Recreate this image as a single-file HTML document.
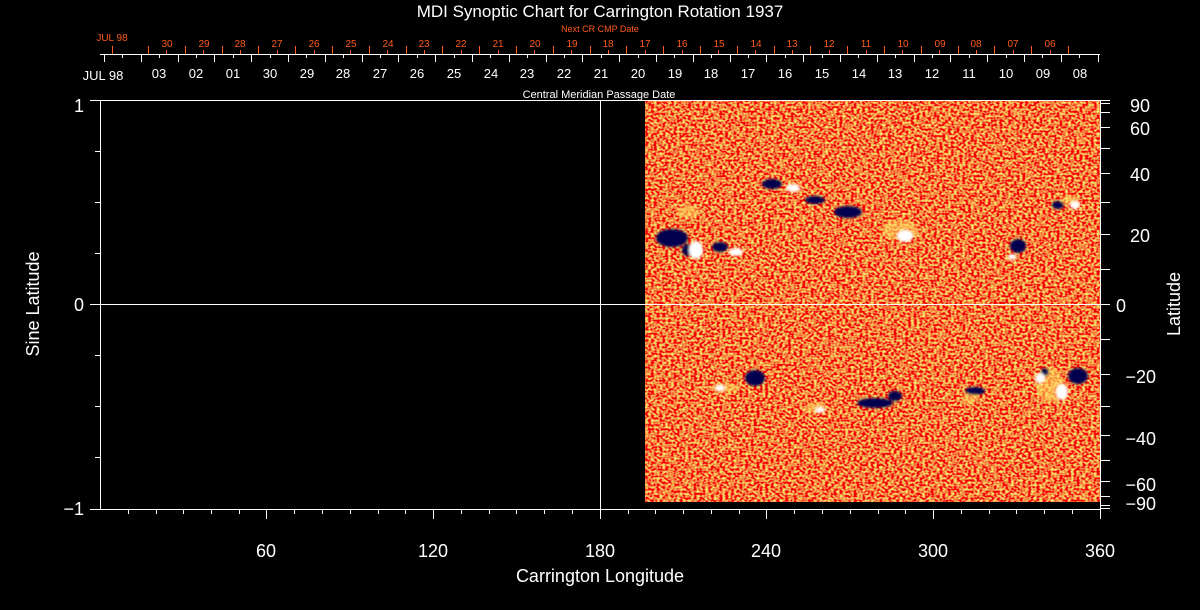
<!DOCTYPE html>
<html><head><meta charset="utf-8"><style>
html,body{margin:0;padding:0;background:#000;}
svg{display:block;}
text{font-family:"Liberation Sans",sans-serif;fill:#fff;}
.o, .o text{fill:#ff5a1e;font-size:10px;}
.w, .w text{font-size:13px;}
.b, .b text{font-size:18px;}
</style></head><body>
<svg width="1200" height="610" viewBox="0 0 1200 610" xmlns="http://www.w3.org/2000/svg">
<defs>
<filter id="n" x="0" y="0" width="100%" height="100%">
<feTurbulence type="fractalNoise" baseFrequency="0.35 0.45" numOctaves="1" seed="3" result="t"/>
<feColorMatrix in="t" type="matrix" values="0 0 0 0 0.91  2.4 0 0 0 -0.98  0.4 0 0 0 -0.15  0 0 0 0 1"/>
</filter>
<filter id="bl"><feGaussianBlur stdDeviation="1.2"/></filter>
</defs>
<rect x="645" y="101" width="455" height="401" fill="#e85a1c"/>
<rect x="645" y="101" width="455" height="401" filter="url(#n)"/>
<g filter="url(#bl)">
<g fill="#ffe060" opacity="0.6">
<ellipse cx="688" cy="212" rx="12" ry="6"/><ellipse cx="900" cy="230" rx="18" ry="10"/>
<ellipse cx="725" cy="388" rx="14" ry="5"/><ellipse cx="815" cy="408" rx="12" ry="5"/>
<ellipse cx="1050" cy="385" rx="14" ry="18"/><ellipse cx="970" cy="398" rx="8" ry="6"/>
<ellipse cx="1070" cy="200" rx="9" ry="5"/>
</g>
<g fill="#000050">
<ellipse cx="672" cy="238" rx="16" ry="9"/><ellipse cx="688" cy="250" rx="6" ry="6"/><ellipse cx="720" cy="247" rx="8" ry="5"/>
<ellipse cx="772" cy="184" rx="10" ry="5"/><ellipse cx="815" cy="200" rx="10" ry="4"/><ellipse cx="848" cy="212" rx="14" ry="6"/>
<ellipse cx="1018" cy="246" rx="8" ry="7"/><ellipse cx="1058" cy="205" rx="6" ry="4"/>
<ellipse cx="755" cy="378" rx="10" ry="8"/><ellipse cx="875" cy="403" rx="18" ry="5"/><ellipse cx="895" cy="396" rx="7" ry="5"/>
<ellipse cx="975" cy="391" rx="10" ry="4"/><ellipse cx="1078" cy="376" rx="10" ry="8"/>
<ellipse cx="1045" cy="372" rx="4" ry="4"/>
</g>
<g fill="#fff">
<ellipse cx="696" cy="250" rx="7" ry="9"/><ellipse cx="736" cy="252" rx="7" ry="4"/>
<ellipse cx="793" cy="188" rx="7" ry="4"/><ellipse cx="905" cy="236" rx="8" ry="6"/>
<ellipse cx="1012" cy="257" rx="4" ry="3"/><ellipse cx="1075" cy="205" rx="5" ry="4"/>
<ellipse cx="1062" cy="392" rx="6" ry="8"/><ellipse cx="1040" cy="378" rx="5" ry="5"/>
<ellipse cx="720" cy="388" rx="5" ry="3"/>
<ellipse cx="820" cy="410" rx="5" ry="3"/>
</g>
</g>
<g stroke="#fff" stroke-width="1" fill="none" shape-rendering="crispEdges">
<line x1="90" y1="100.5" x2="1100" y2="100.5"/>
<line x1="100.5" y1="100" x2="100.5" y2="509"/>
<line x1="90" y1="509.5" x2="1100" y2="509.5"/>
<line x1="1100.5" y1="100" x2="1100.5" y2="515"/>
<line x1="600.5" y1="100" x2="600.5" y2="509"/>
<line x1="90" y1="304.5" x2="1110" y2="304.5"/>
<path d="M95 151.5H100M95 202.5H100M95 253.5H100M95 355.5H100M95 406.5H100M95 457.5H100"/>
<path d="M128.5 509V514M156.5 509V514M183.5 509V514M211.5 509V514M239.5 509V514M266.5 509V519M294.5 509V514M322.5 509V514M350.5 509V514M378.5 509V514M405.5 509V514M433.5 509V519M461.5 509V514M489.5 509V514M516.5 509V514M544.5 509V514M572.5 509V514M600.5 509V519M628.5 509V514M655.5 509V514M683.5 509V514M711.5 509V514M739.5 509V514M766.5 509V519M794.5 509V514M822.5 509V514M850.5 509V514M878.5 509V514M905.5 509V514M933.5 509V519M961.5 509V514M989.5 509V514M1016.5 509V514M1044.5 509V514M1072.5 509V514M1100.5 509V519"/>
<path d="M1100 100.5H1110M1100 103.5H1110M1100 112.5H1110M1100 127.5H1110M1100 148.5H1110M1100 173.5H1110M1100 202.5H1110M1100 234.5H1110M1100 269.5H1110M1100 339.5H1110M1100 374.5H1110M1100 406.5H1110M1100 435.5H1110M1100 460.5H1110M1100 481.5H1110M1100 496.5H1110M1100 505.5H1110M1100 508.5H1110"/>
<line x1="100" y1="54.5" x2="1100" y2="54.5"/>
<path d="M104.5 54V62M141.5 54V62M178.5 54V62M214.5 54V62M251.5 54V62M288.5 54V62M325.5 54V62M362.5 54V62M398.5 54V62M435.5 54V62M472.5 54V62M509.5 54V62M546.5 54V62M582.5 54V62M619.5 54V62M656.5 54V62M693.5 54V62M730.5 54V62M766.5 54V62M803.5 54V62M840.5 54V62M877.5 54V62M914.5 54V62M950.5 54V62M987.5 54V62M1024.5 54V62M1061.5 54V62M1098.5 54V62"/>
<path d="M122.5 54V58M159.5 54V58M196.5 54V58M233.5 54V58M270.5 54V58M306.5 54V58M343.5 54V58M380.5 54V58M417.5 54V58M454.5 54V58M490.5 54V58M527.5 54V58M564.5 54V58M601.5 54V58M638.5 54V58M674.5 54V58M711.5 54V58M748.5 54V58M785.5 54V58M822.5 54V58M858.5 54V58M895.5 54V58M932.5 54V58M969.5 54V58M1006.5 54V58M1042.5 54V58M1079.5 54V58"/>
</g>
<g stroke="#ff5a1e" stroke-width="1" shape-rendering="crispEdges">
<path d="M112.5 54V46M148.5 54V46M185.5 54V46M222.5 54V46M258.5 54V46M295.5 54V46M332.5 54V46M369.5 54V46M406.5 54V46M442.5 54V46M479.5 54V46M516.5 54V46M553.5 54V46M590.5 54V46M626.5 54V46M663.5 54V46M700.5 54V46M737.5 54V46M774.5 54V46M810.5 54V46M847.5 54V46M884.5 54V46M921.5 54V46M958.5 54V46M994.5 54V46M1031.5 54V46M1068.5 54V46"/>
<path d="M166.5 54V50M203.5 54V50M240.5 54V50M277.5 54V50M314.5 54V50M350.5 54V50M387.5 54V50M424.5 54V50M461.5 54V50M498.5 54V50M534.5 54V50M571.5 54V50M608.5 54V50M645.5 54V50M682.5 54V50M718.5 54V50M755.5 54V50M792.5 54V50M829.5 54V50M866.5 54V50M902.5 54V50M939.5 54V50M976.5 54V50M1013.5 54V50M1050.5 54V50"/>
</g>
<text x="600" y="17" text-anchor="middle" font-size="17">MDI Synoptic Chart for Carrington Rotation 1937</text>
<text x="600" y="32" text-anchor="middle" class="o" style="font-size:9px">Next CR CMP Date</text>
<text x="112" y="41" text-anchor="middle" class="o">JUL 98</text>
<g class="o" text-anchor="middle">
<text x="167" y="47">30</text><text x="204" y="47">29</text><text x="240" y="47">28</text><text x="277" y="47">27</text><text x="314" y="47">26</text><text x="351" y="47">25</text><text x="388" y="47">24</text><text x="424" y="47">23</text><text x="461" y="47">22</text><text x="498" y="47">21</text><text x="535" y="47">20</text><text x="572" y="47">19</text><text x="608" y="47">18</text><text x="645" y="47">17</text><text x="682" y="47">16</text><text x="719" y="47">15</text><text x="756" y="47">14</text><text x="792" y="47">13</text><text x="829" y="47">12</text><text x="866" y="47">11</text><text x="903" y="47">10</text><text x="940" y="47">09</text><text x="976" y="47">08</text><text x="1013" y="47">07</text><text x="1050" y="47">06</text>
</g>
<text x="103" y="80" text-anchor="middle" class="w">JUL 98</text>
<g class="w" text-anchor="middle">
<text x="159" y="78">03</text><text x="196" y="78">02</text><text x="233" y="78">01</text><text x="270" y="78">30</text><text x="307" y="78">29</text><text x="343" y="78">28</text><text x="380" y="78">27</text><text x="417" y="78">26</text><text x="454" y="78">25</text><text x="491" y="78">24</text><text x="527" y="78">23</text><text x="564" y="78">22</text><text x="601" y="78">21</text><text x="638" y="78">20</text><text x="675" y="78">19</text><text x="711" y="78">18</text><text x="748" y="78">17</text><text x="785" y="78">16</text><text x="822" y="78">15</text><text x="859" y="78">14</text><text x="895" y="78">13</text><text x="932" y="78">12</text><text x="969" y="78">11</text><text x="1006" y="78">10</text><text x="1043" y="78">09</text><text x="1080" y="78">08</text>
</g>
<text x="599" y="98" text-anchor="middle" font-size="11">Central Meridian Passage Date</text>
<g class="b" text-anchor="end">
<text x="84" y="112">1</text><text x="84" y="311">0</text><text x="84" y="515">−1</text>
</g>
<text class="b" transform="translate(39 304) rotate(-90)" text-anchor="middle">Sine Latitude</text>
<g class="b" text-anchor="middle">
<text x="266" y="557">60</text><text x="433" y="557">120</text><text x="600" y="557">180</text><text x="766" y="557">240</text><text x="933" y="557">300</text><text x="1100" y="557">360</text>
</g>
<text x="600" y="582" class="b" text-anchor="middle">Carrington Longitude</text>
<g class="b" text-anchor="end">
<text x="1150" y="112">90</text><text x="1150" y="135">60</text><text x="1150" y="181">40</text><text x="1150" y="242">20</text><text x="1126" y="312">0</text><text x="1156" y="383">−20</text><text x="1156" y="445">−40</text><text x="1156" y="491">−60</text><text x="1156" y="510">−90</text>
</g>
<text class="b" transform="translate(1180 304) rotate(-90)" text-anchor="middle">Latitude</text>
</svg>
</body></html>
